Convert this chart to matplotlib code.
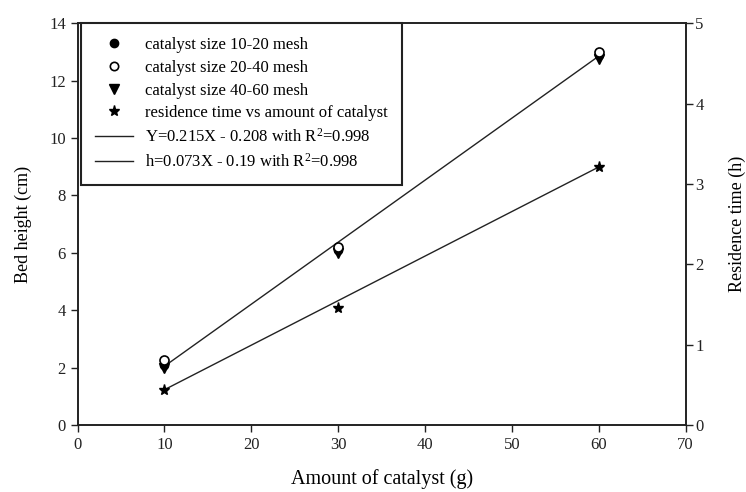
import matplotlib
matplotlib.use("Agg")
import matplotlib.pyplot as plt
from matplotlib.lines import Line2D

plt.rcParams['font.family'] = ['Liberation Serif', 'DejaVu Serif']

# data
amount = [10, 30, 60]
bed_10_20 = [2.1, 6.1, 12.9]
bed_20_40 = [2.26, 6.2, 13.0]
bed_40_60 = [1.98, 6.0, 12.75]
res_time = [0.435, 1.455, 3.21]

fit_x = [10, 60]
fit_bed = [2.05, 12.85]
fit_res = [0.44, 3.21]

fig = plt.figure(figsize=(7.46, 4.92), dpi=100)
ax = fig.add_axes([0.104, 0.136, 0.815, 0.817])
ax2 = ax.twinx()

lc = '#222222'
ax.plot(fit_x, fit_bed, color=lc, lw=1.0, zorder=2)
ax2.plot(fit_x, fit_res, color=lc, lw=1.0, zorder=2)

ax.plot(amount, bed_10_20, 'o', color='black', ms=6, zorder=3)
ax.plot(amount, bed_40_60, 'v', color='black', ms=7, zorder=3)
ax.plot(amount, bed_20_40, 'o', mfc='white', mec='black', mew=1.2, ms=6.5, zorder=4)
ax2.plot(amount, res_time, '*', color='black', ms=8, zorder=3)

ax.set_xlim(0, 70)
ax.set_ylim(0, 14)
ax2.set_ylim(0, 5)
ax.set_xticks(range(0, 71, 10))
ax.set_yticks(range(0, 15, 2))
ax2.set_yticks(range(0, 6))

for a in (ax, ax2):
    a.tick_params(direction='out', length=5, width=1, labelsize=12, colors='#222222')
    for s in a.spines.values():
        s.set_color('#222222')
        s.set_linewidth(1.2)
ax2.tick_params(labelsize=12, pad=2)

ax.set_xlabel('Amount of catalyst (g)', fontsize=14.5, labelpad=12)
ax.set_ylabel('Bed height (cm)', fontsize=13, labelpad=12)
ax2.set_ylabel('Residence time (h)', fontsize=13, labelpad=18)

handles = [
    Line2D([], [], ls='none', marker='o', color='black', ms=6),
    Line2D([], [], ls='none', marker='o', mfc='white', mec='black', mew=1.2, ms=6),
    Line2D([], [], ls='none', marker='v', color='black', ms=7),
    Line2D([], [], ls='none', marker='*', color='black', ms=8),
    Line2D([], [], color=lc, lw=1.0),
    Line2D([], [], color=lc, lw=1.0),
]
labels = [
    'catalyst size 10-20 mesh',
    'catalyst size 20-40 mesh',
    'catalyst size 40-60 mesh',
    'residence time vs amount of catalyst',
    'Y=0.215X - 0.208 with R$\\mathregular{^2}$=0.998',
    'h=0.073X - 0.19 with R$\\mathregular{^2}$=0.998',
]
leg = ax2.legend(handles, labels, loc='upper left', bbox_to_anchor=(0.005, 1.0),
                 fontsize=12, frameon=True, fancybox=False, framealpha=1,
                 edgecolor='#222222', borderaxespad=0, handlelength=2.3,
                 handletextpad=0.7, labelspacing=0.4, borderpad=0.85)
leg.get_frame().set_linewidth(1.5)

fig.savefig('out.png', dpi=100)
